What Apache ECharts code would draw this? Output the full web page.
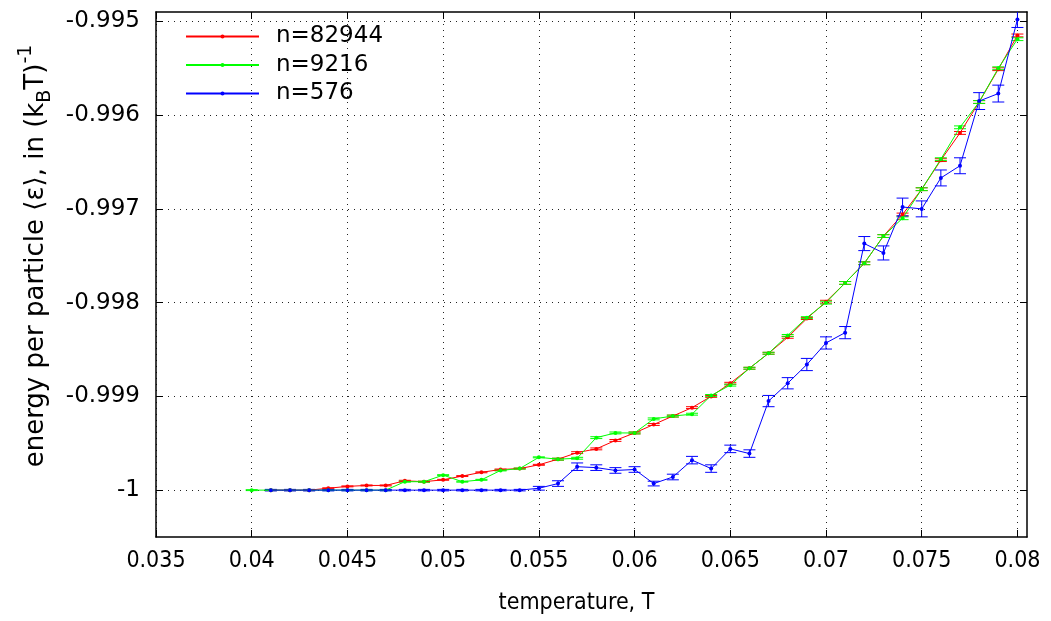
<!DOCTYPE html>
<html>
<head>
<meta charset="utf-8">
<script src="https://cdn.jsdelivr.net/npm/echarts@6/dist/echarts.min.js"></script>
<style>
  html, body { margin: 0; padding: 0; background: #fff; }
  #chart { width: 1051px; height: 621px; }
</style>
</head>
<body>
<div id="chart"></div>
<script>
// temperatures
var tempsGreen = [0.040, 0.041, 0.042, 0.043, 0.044, 0.045, 0.046, 0.047, 0.048, 0.049,
  0.050, 0.051, 0.052, 0.053, 0.054, 0.055, 0.056, 0.057, 0.058, 0.059,
  0.060, 0.061, 0.062, 0.063, 0.064, 0.065, 0.066, 0.067, 0.068, 0.069,
  0.070, 0.071, 0.072, 0.073, 0.074, 0.075, 0.076, 0.077, 0.078, 0.079, 0.080];
var tempsRed = [0.041, 0.042, 0.043, 0.044, 0.045, 0.046, 0.047, 0.048, 0.049,
  0.050, 0.051, 0.052, 0.053, 0.054, 0.055, 0.056, 0.057, 0.058, 0.059,
  0.060, 0.061, 0.062, 0.063, 0.064, 0.065, 0.066, 0.067, 0.068, 0.069,
  0.070, 0.071, 0.072, 0.073, 0.074, 0.075, 0.076, 0.077, 0.078, 0.079, 0.080];
var tempsBlue = tempsRed;

// tick values
var yTicks = [-1, -0.999, -0.998, -0.997, -0.996, -0.995];
var xTicks = [0.035, 0.04, 0.045, 0.05, 0.055, 0.06, 0.065, 0.07, 0.075, 0.08];

// n=82944
var energyRed = [-1.00000, -1.00000, -1.00000, -0.99998, -0.99996, -0.99995, -0.99995, -0.99990, -0.99991,
  -0.99989, -0.99985, -0.99981, -0.99978, -0.99977, -0.99973, -0.99967, -0.99960, -0.99956, -0.99947,
  -0.99939, -0.99930, -0.99921, -0.99912, -0.99900, -0.99886, -0.99870, -0.99854, -0.99837, -0.99817,
  -0.99799, -0.99779, -0.99758, -0.99729, -0.99706, -0.99679, -0.99648, -0.99619, -0.99586, -0.99551, -0.99515];
var errRed = [0.000005, 0.000005, 0.000005, 0.000005, 0.000005, 0.000005, 0.000005, 0.000005, 0.000005,
  0.000005, 0.000005, 0.000005, 0.000005, 0.000005, 0.000005, 0.00001, 0.00001, 0.00001, 0.00001,
  0.00001, 0.00001, 0.00001, 0.00001, 0.00001, 0.00001, 0.00001, 0.00001, 0.00001, 0.00001,
  0.000015, 0.000015, 0.000015, 0.000015, 0.000015, 0.000015, 0.000015, 0.000015, 0.000015, 0.000015, 0.000015];

// n=9216
var energyGreen = [-1.00000, -1.00000, -1.00000, -1.00000, -1.00000, -1.00000, -1.00000, -1.00000, -0.99991, -0.99991,
  -0.99984, -0.99991, -0.99989, -0.99979, -0.99977, -0.99965, -0.99967, -0.99966, -0.99944, -0.99939,
  -0.99939, -0.99924, -0.99921, -0.99919, -0.99899, -0.99888, -0.99870, -0.99854, -0.99835, -0.99816,
  -0.99800, -0.99779, -0.99758, -0.99729, -0.99710, -0.99679, -0.99647, -0.99613, -0.99586, -0.99550, -0.99519];
var errGreen = [0.000005, 0.000005, 0.000005, 0.000005, 0.000005, 0.000005, 0.000005, 0.000005, 0.000005, 0.000005,
  0.000005, 0.000005, 0.000005, 0.000005, 0.000005, 0.000005, 0.00001, 0.00001, 0.00001, 0.00001,
  0.00001, 0.00001, 0.00001, 0.00001, 0.00001, 0.00001, 0.00001, 0.00001, 0.00001, 0.00001,
  0.000015, 0.000015, 0.000015, 0.000015, 0.000015, 0.000015, 0.000015, 0.000015, 0.000015, 0.000015, 0.000015];

// n=576
var energyBlue = [-1.00000, -1.00000, -1.00000, -1.00000, -1.00000, -1.00000, -1.00000, -1.00000, -1.00000,
  -1.00000, -1.00000, -1.00000, -1.00000, -1.00000, -0.99998, -0.99993, -0.99975, -0.99976, -0.99979,
  -0.99978, -0.99993, -0.99986, -0.99968, -0.99977, -0.99956, -0.99961, -0.99905, -0.99886, -0.99866,
  -0.99843, -0.99832, -0.99737, -0.99747, -0.99698, -0.99700, -0.99667, -0.99654, -0.99585, -0.99577, -0.99498];
var errBlue = [0.000008, 0.000008, 0.000008, 0.000008, 0.000008, 0.000008, 0.000008, 0.000008, 0.000008,
  0.000008, 0.000008, 0.000008, 0.000008, 0.000008, 0.00002, 0.00003, 0.00004, 0.00003, 0.00003,
  0.00003, 0.000025, 0.00003, 0.00004, 0.00004, 0.00004, 0.00004, 0.00006, 0.00006, 0.000065,
  0.000065, 0.000065, 0.000075, 0.000075, 0.000095, 0.000085, 0.000085, 0.000085, 0.00009, 0.00009, 0.000085];

var seriesNames = ['n=82944', 'n=9216', 'n=576'];
var seriesColors = ['#ff0000', '#00ff00', '#0000ff'];

var fontMain = '"DejaVu Sans", sans-serif';
var fontNarrow = '"DejaVu Sans Condensed", "Liberation Sans Narrow", "DejaVu Sans", sans-serif';

function zipPoints(xs, ys, es) {
  var out = [];
  for (var i = 0; i < xs.length; i++) {
    out.push(es ? [xs[i], ys[i], es[i]] : [xs[i], ys[i]]);
  }
  return out;
}

function renderErrorBar(color) {
  return function (params, api) {
    var x = api.value(0), y = api.value(1), e = api.value(2);
    var top = api.coord([x, y + e]);
    var bot = api.coord([x, y - e]);
    var hw = 6;
    var style = { stroke: color, lineWidth: 1 };
    return {
      type: 'group',
      children: [
        { type: 'line', shape: { x1: top[0], y1: top[1], x2: bot[0], y2: bot[1] }, style: style },
        { type: 'line', shape: { x1: top[0] - hw, y1: top[1], x2: top[0] + hw, y2: top[1] }, style: style },
        { type: 'line', shape: { x1: bot[0] - hw, y1: bot[1], x2: bot[0] + hw, y2: bot[1] }, style: style }
      ]
    };
  };
}

var groups = [
  { name: seriesNames[0], color: seriesColors[0], x: tempsRed, y: energyRed, e: errRed },
  { name: seriesNames[1], color: seriesColors[1], x: tempsGreen, y: energyGreen, e: errGreen },
  { name: seriesNames[2], color: seriesColors[2], x: tempsBlue, y: energyBlue, e: errBlue }
];

var series = [];
groups.forEach(function (g) {
  series.push({
    name: g.name + ' err',
    type: 'custom',
    renderItem: renderErrorBar(g.color),
    data: zipPoints(g.x, g.y, g.e),
    encode: { x: 0, y: 1 },
    clip: true,
    silent: true,
    z: 2
  });
  series.push({
    name: g.name,
    type: 'line',
    data: zipPoints(g.x, g.y),
    symbol: 'circle',
    symbolSize: 4,
    showSymbol: true,
    lineStyle: { color: g.color, width: 1 },
    itemStyle: { color: g.color },
    emphasis: { disabled: true },
    z: 3
  });
});

var gridLine = { show: true, lineStyle: { color: '#222', type: [1, 5], width: 1 } };
var frameLine = { show: true, onZero: false, lineStyle: { color: '#000', width: 1.5 } };

var chart = echarts.init(document.getElementById('chart'));
chart.setOption({
  animation: false,
  backgroundColor: '#fff',
  textStyle: { fontFamily: fontMain, color: '#000' },
  grid: { left: 156, right: 24, top: 12, bottom: 84, containLabel: false },
  legend: {
    data: seriesNames,
    orient: 'vertical',
    left: 180,
    top: 20,
    itemWidth: 73,
    itemHeight: 5,
    itemGap: 5.5,
    selectedMode: false,
    textStyle: { fontSize: 23, color: '#000', fontFamily: fontMain, padding: [0, 0, 0, 12] }
  },
  xAxis: [{
    type: 'value',
    min: 0.035,
    max: 0.0805,
    name: 'temperature, T',
    nameLocation: 'middle',
    nameGap: 55,
    nameTextStyle: { fontSize: 23, fontFamily: fontNarrow, color: '#000', padding: [0, 30, 0, 0] },
    axisLine: frameLine,
    axisTick: { show: true, inside: true, length: 7, lineStyle: { color: '#000' }, customValues: xTicks },
    axisLabel: { fontSize: 23, fontFamily: fontNarrow, color: '#000', margin: 13, customValues: xTicks },
    splitLine: gridLine
  }, {
    type: 'value',
    position: 'top',
    min: 0.035,
    max: 0.0805,
    axisLine: frameLine,
    axisTick: { show: true, inside: true, length: 7, lineStyle: { color: '#000' }, customValues: xTicks },
    axisLabel: { show: false },
    splitLine: { show: false }
  }],
  yAxis: [{
    type: 'value',
    min: -1.0005,
    max: -0.9949,
    name: 'energy per particle \u27e8\u03b5\u27e9, in (k{sub|B}T){sup|-1}',
    nameLocation: 'middle',
    nameRotate: 90,
    nameGap: 94,
    nameTextStyle: {
      fontSize: 26, fontFamily: fontMain, color: '#000', lineHeight: 38,
      padding: [0, 0, 0, 37],
      rich: {
        sub: { fontSize: 19, fontFamily: fontMain, color: '#000', verticalAlign: 'bottom', lineHeight: 38 },
        sup: { fontSize: 19, fontFamily: fontMain, color: '#000', verticalAlign: 'top', lineHeight: 38 }
      }
    },
    axisLine: frameLine,
    axisTick: { show: true, inside: true, length: 7, lineStyle: { color: '#000' }, customValues: yTicks },
    axisLabel: { fontSize: 23, fontFamily: fontMain, color: '#000', margin: 16, customValues: yTicks },
    splitLine: gridLine
  }, {
    type: 'value',
    position: 'right',
    min: -1.0005,
    max: -0.9949,
    axisLine: frameLine,
    axisTick: { show: true, inside: true, length: 7, lineStyle: { color: '#000' }, customValues: yTicks },
    axisLabel: { show: false },
    splitLine: { show: false }
  }],
  series: series
});
</script>
</body>
</html>
